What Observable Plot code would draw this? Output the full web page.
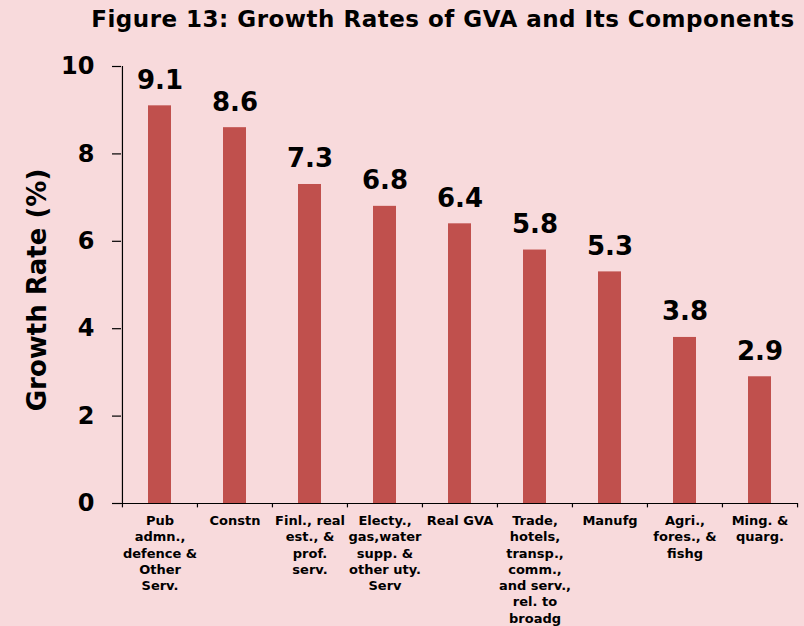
<!DOCTYPE html>
<html>
<head>
<meta charset="utf-8">
<script src="https://cdn.jsdelivr.net/npm/d3@7"></script>
<script src="https://cdn.jsdelivr.net/npm/@observablehq/plot@0.6"></script>
<style>
  html, body { margin: 0; padding: 0; background: #F8DADC; }
  #wrap { width: 804px; height: 626px; position: relative; overflow: hidden; background: #F8DADC; }
  #title { position: absolute; left: 0; top: 6px; width: 804px; text-align: center; padding-left: 82px; box-sizing: border-box;
           font-family: "DejaVu Sans", Verdana, sans-serif; font-weight: bold; font-size: 23px; letter-spacing: 0.5px; color: #000; white-space: nowrap; }
  #chart { position: absolute; left: 0; top: 40px; }
</style>
</head>
<body>
<div id="wrap">
  <div id="title">Figure 13: Growth Rates of GVA and Its Components</div>
  <div id="chart"></div>
</div>
<script>
const categories = [
  "Pub\nadmn.,\ndefence &\nOther\nServ.",
  "Constn",
  "Finl., real\nest., &\nprof.\nserv.",
  "Electy.,\ngas,water\nsupp. &\nother uty.\nServ",
  "Real GVA",
  "Trade,\nhotels,\ntransp.,\ncomm.,\nand serv.,\nrel. to\nbroadg",
  "Manufg",
  "Agri.,\nfores., &\nfishg",
  "Ming. &\nquarg."
];
const values = [9.1, 8.6, 7.3, 6.8, 6.4, 5.8, 5.3, 3.8, 2.9];
const labels = ["9.1", "8.6", "7.3", "6.8", "6.4", "5.8", "5.3", "3.8", "2.9"];
const yTicks = [0, 2, 4, 6, 8, 10];
const yTitle = "Growth Rate (%)";

const data = categories.map((c, i) => ({cat: c, value: values[i], label: labels[i]}));

const W = 804, H = 586;
const mL = 121, mR = 7, mT = 26, mB = 123;
const step = (W - mL - mR) / categories.length;

const chart = Plot.plot({
  width: W,
  height: H,
  marginLeft: mL,
  marginRight: mR,
  marginTop: mT,
  marginBottom: mB,
  style: {background: "transparent", fontFamily: "'DejaVu Sans', Verdana, sans-serif", color: "#000"},
  x: {domain: categories, padding: 0, axis: null},
  y: {domain: [0, 10], ticks: yTicks, axis: null},
  marks: [
    Plot.barY(data, {x: "cat", y: "value", fill: "#C0504D", insetLeft: 26, insetRight: 26}),
    Plot.ruleY([0], {stroke: "#000", strokeWidth: 1.2}),
    Plot.ruleX([0], {x: () => categories[0], y1: 0, y2: 10, dx: -step / 2, stroke: "#000", strokeWidth: 1.2}),
    Plot.ruleX(categories, {x: d => d, y1: 0, y2: -0.1, dx: -step / 2, stroke: "#000", strokeWidth: 1.2}),
    Plot.ruleX([categories[categories.length - 1]], {x: d => d, y1: 0, y2: -0.1, dx: step / 2, stroke: "#000", strokeWidth: 1.2}),
    Plot.axisY({ticks: yTicks, tickSize: 9, tickPadding: 18, fontSize: 24, fontWeight: "bold",
      label: null, stroke: "#000", strokeWidth: 1.2}),
    Plot.text([yTitle], {frameAnchor: "left", text: d => d, rotate: -90, dx: -84, dy: 5, textAnchor: "middle", lineAnchor: "middle",
      fontSize: 26, fontWeight: "bold", fill: "#000"}),
    Plot.axisX({tickSize: 0, tickPadding: 10, fontSize: 13, fontWeight: "bold", lineHeight: 1.25, label: null}),
    Plot.text(data, {x: "cat", y: "value", text: "label", dy: -17, lineAnchor: "bottom", fontSize: 26, fontWeight: "bold", fill: "#000"})
  ]
});
document.getElementById("chart").appendChild(chart);
</script>
</body>
</html>
